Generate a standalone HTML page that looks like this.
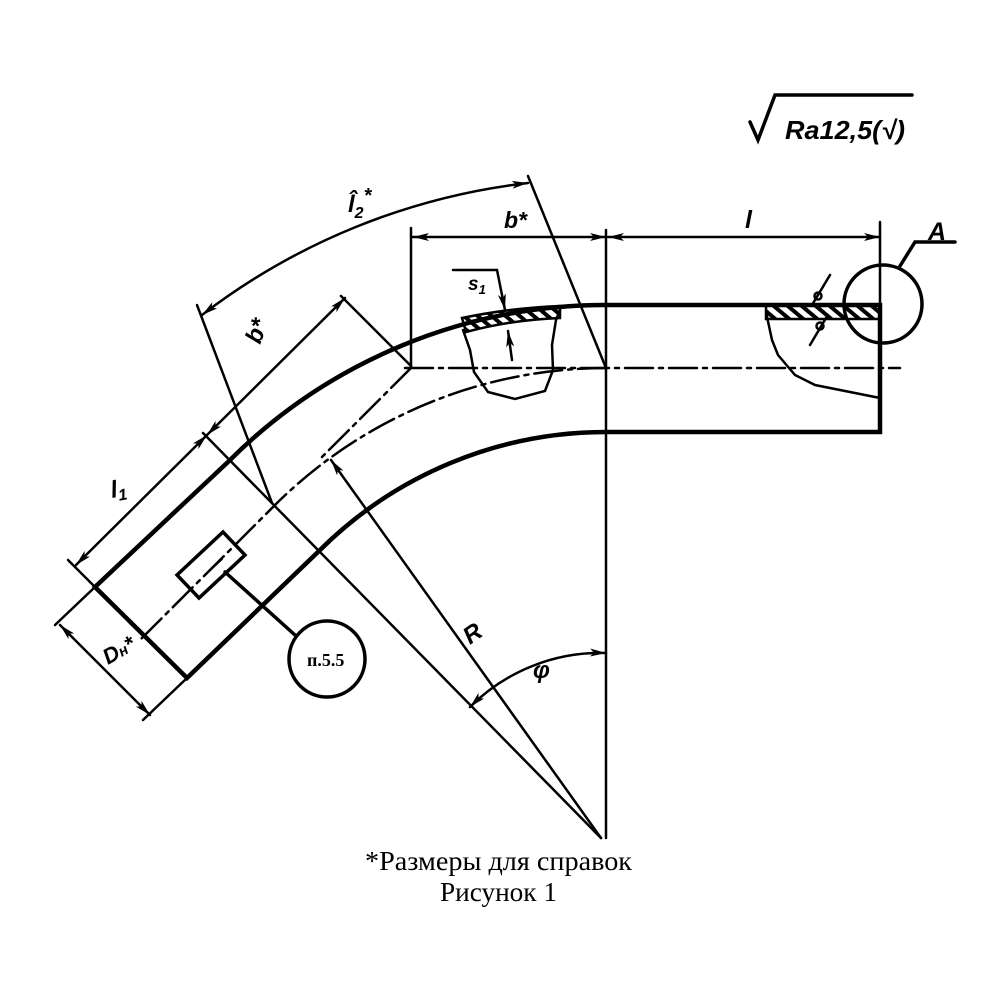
<!DOCTYPE html>
<html><head><meta charset="utf-8"><style>
html,body{margin:0;padding:0;background:#fff;width:1000px;height:1000px;overflow:hidden}
svg{display:block}
.t{font-family:"Liberation Sans",sans-serif;font-weight:bold;font-style:italic;fill:#000}
</style></head><body>
<svg width="1000" height="1000" viewBox="0 0 1000 1000" xmlns="http://www.w3.org/2000/svg">
<defs>
<marker id="a" viewBox="0 0 16 8" refX="16" refY="4" markerWidth="16" markerHeight="8" orient="auto-start-reverse" markerUnits="userSpaceOnUse">
<path d="M0,0 L16,4 L0,8 L4,4 z" fill="#000"/></marker>
<pattern id="h" width="9" height="9" patternUnits="userSpaceOnUse" patternTransform="rotate(-50)">
<rect width="9" height="9" fill="#fff"/><rect width="4" height="9" fill="#000"/></pattern>
</defs>
<g fill="none" stroke="#000" stroke-linecap="round">
<path d="M462,318 Q510,308 560,306 L560,318 Q510,320 466,332 Z" fill="url(#h)" stroke-width="2.5"/>
<rect x="766" y="305" width="114" height="14" fill="url(#h)" stroke-width="2.5"/>
<g stroke-width="4.5">
<path d="M95,587 L229,461 A533,533 0 0 1 606,305 L880,305 L880,432 L606,432 A406,406 0 0 0 319,551 L187,678 Z"/>
</g>
<g stroke-width="2.5">
<path d="M463,330 L470,350 L474,372 L488,392 L515,399 L545,391 L553,370 L552,345 L556,320 L560,310"/>
<path d="M766,312 L772,340 L778,355 L795,375 L815,385 L840,390 L880,398"/>
</g>
<g stroke-width="2.5" stroke-dasharray="28,6,4,6">
<path d="M405,368 L900,368"/>
<path d="M606,368 A470,470 0 0 0 274,506 L140,640"/>
<path d="M411,368 L322,457"/>
</g>
<g stroke-width="2.5">
<path d="M606,230 L606,838"/>
<path d="M203,433 L601,838"/>
<path d="M601,838 L331,460" marker-end="url(#a)"/>
<path d="M197,305 L272,503"/>
<path d="M528,176 L606,368"/>
<path d="M411,228 L411,368"/>
<path d="M880,222 L880,305"/>
<path d="M341,296 L411,366"/>
<path d="M68,560 L95,587"/>
<path d="M95,587 L55,625"/>
<path d="M187,678 L143,720"/>
<path d="M413,237 L606,237" marker-start="url(#a)" marker-end="url(#a)"/>
<path d="M608,237 L880,237" marker-start="url(#a)" marker-end="url(#a)"/>
<path d="M202,315 A660,660 0 0 1 528,183" marker-start="url(#a)" marker-end="url(#a)"/>
<path d="M207,435 L345,298" marker-start="url(#a)" marker-end="url(#a)"/>
<path d="M76,565 L207,435" marker-start="url(#a)" marker-end="url(#a)"/>
<path d="M60,625 L150,715" marker-start="url(#a)" marker-end="url(#a)"/>
<path d="M470,707 A185,185 0 0 1 606,653" marker-start="url(#a)" marker-end="url(#a)"/>
<path d="M453,270 L497,270 L505,310" marker-end="url(#a)"/>
<path d="M512,360 L508,331" marker-end="url(#a)"/>
<path d="M812,305 L830,275"/><path d="M810,345 L826,318"/>
</g>
<g stroke-width="3.5">
<path d="M177,575 L223,532 L245,555 L199,598 Z"/>
<path d="M205,575 L222,559" stroke-width="2"/>
<path d="M225,572 L295,635"/>
<circle cx="327" cy="659" r="38"/>
<circle cx="883" cy="304" r="39"/>
<path d="M900,266 L915,242 L955,242"/>
<path d="M750,122 L758,140 L775,95 L912,95"/>
</g>
<g stroke-width="2.5"><circle cx="818" cy="296" r="3.5"/><circle cx="820" cy="326" r="3.5"/></g>
</g>
<text class="t" x="785" y="139" font-size="26" textLength="120" lengthAdjust="spacingAndGlyphs">Ra12,5(√)</text>
<text class="t" x="928" y="240" font-size="25">A</text>
<text class="t" x="745" y="228" font-size="25">l</text>
<text class="t" x="504" y="228" font-size="23">b*</text>
<text class="t" x="468" y="290" font-size="19">s<tspan font-size="13" dy="4">1</tspan></text>
<text class="t" x="348" y="212" font-size="24">l̂<tspan font-size="16" dy="6">2</tspan><tspan dy="-16" font-size="20">*</tspan></text>
<text class="t" font-size="24" transform="translate(260,345) rotate(-70)">b*</text>
<text class="t" font-size="24" transform="translate(112,498) rotate(-10)">l<tspan font-size="16" dy="4">1</tspan></text>
<text class="t" font-size="22" transform="translate(108,665) rotate(-30)">D<tspan font-size="15">н</tspan>*</text>
<text class="t" font-size="24" transform="translate(470,645) rotate(-35)">R</text>
<text class="t" x="533" y="678" font-size="24">φ</text>
<text x="307" y="666" font-family="Liberation Serif,serif" font-size="18" font-weight="bold">п.5.5</text>
<text x="365" y="870" font-family="Liberation Serif,serif" font-size="27" textLength="267" lengthAdjust="spacingAndGlyphs">*Размеры для справок</text>
<text x="440" y="901" font-family="Liberation Serif,serif" font-size="27" textLength="117" lengthAdjust="spacingAndGlyphs">Рисунок 1</text>
</svg>
</body></html>
